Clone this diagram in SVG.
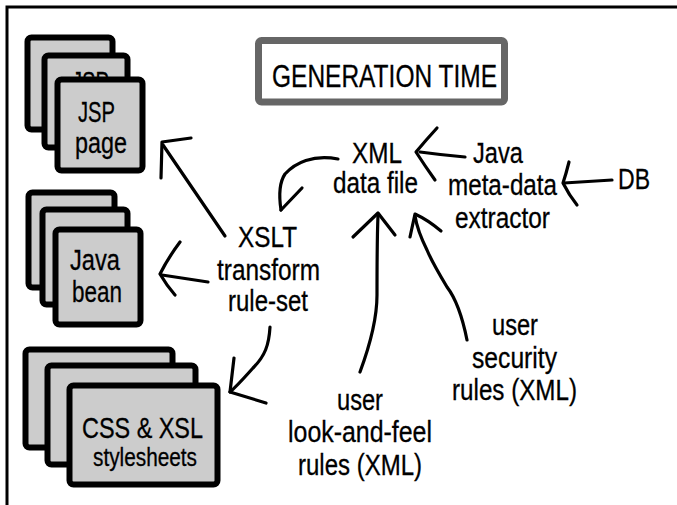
<svg xmlns="http://www.w3.org/2000/svg" width="677" height="505" viewBox="0 0 677 505">
<style>
.frame{stroke:#000;stroke-width:3;fill:none}
.card{fill:#cccccc;stroke:#000;stroke-width:6}
.title{fill:#fff;stroke:#666;stroke-width:7}
.t{font-family:"Liberation Sans",Arial,sans-serif;font-size:29px;fill:#000;stroke:#000;stroke-width:0.3}
.h{font-size:31px}
.s{font-family:"Liberation Sans",Arial,sans-serif;font-size:25px;fill:#000;stroke:#000;stroke-width:0.3}
.c{fill:none;stroke:#000;stroke-width:3.2;stroke-linecap:round;stroke-linejoin:round}
</style>
<rect width="677" height="505" fill="#fff"/>
<path class="frame" d="M7,505 V7 H677"/>

<g id="generation-time">
<rect class="title" x="258.5" y="40.5" width="246" height="61.5" rx="3"/>
<text class="t h" x="272" y="87" textLength="225" lengthAdjust="spacingAndGlyphs">GENERATION TIME</text>
</g>

<g id="jsp-stack">
<rect class="card" x="27.5" y="37.5" width="85" height="92" rx="4"/>
<rect class="card" x="44.5" y="55.5" width="83" height="92" rx="4"/>
<text class="t" x="72" y="92" textLength="37" lengthAdjust="spacingAndGlyphs">JSP</text>
<rect class="card" x="57.5" y="79.5" width="85" height="91" rx="4"/>
<text class="t" x="78" y="122" textLength="37" lengthAdjust="spacingAndGlyphs">JSP</text>
<text class="t" x="75" y="153" textLength="52" lengthAdjust="spacingAndGlyphs">page</text>
</g>

<g id="java-bean-stack">
<rect class="card" x="28.5" y="192.5" width="86" height="95" rx="4"/>
<rect class="card" x="42.5" y="209.5" width="85" height="95" rx="4"/>
<rect class="card" x="55.5" y="229.5" width="85" height="95" rx="4"/>
<text class="t" x="70" y="270" textLength="50" lengthAdjust="spacingAndGlyphs">Java</text>
<text class="t" x="72" y="302" textLength="50" lengthAdjust="spacingAndGlyphs">bean</text>
</g>

<g id="css-xsl-stack">
<rect class="card" x="25.5" y="349.5" width="147" height="98" rx="4"/>
<rect class="card" x="47.5" y="365.5" width="148" height="99" rx="4"/>
<rect class="card" x="69.5" y="385.5" width="148" height="99" rx="4"/>
<text class="t" x="82" y="438" textLength="121" lengthAdjust="spacingAndGlyphs">CSS &amp; XSL</text>
<text class="s" x="93" y="466" textLength="104" lengthAdjust="spacingAndGlyphs">stylesheets</text>
</g>

<g id="xml-data-file">
<text class="t" x="352" y="163" textLength="50" lengthAdjust="spacingAndGlyphs">XML</text>
<text class="t" x="333" y="193" textLength="85" lengthAdjust="spacingAndGlyphs">data file</text>
</g>

<g id="xslt">
<text class="t" x="238" y="247" textLength="59" lengthAdjust="spacingAndGlyphs">XSLT</text>
<text class="t" x="217" y="280" textLength="103" lengthAdjust="spacingAndGlyphs">transform</text>
<text class="t" x="228" y="311" textLength="80" lengthAdjust="spacingAndGlyphs">rule-set</text>
</g>

<g id="extractor">
<text class="t" x="473" y="163" textLength="50" lengthAdjust="spacingAndGlyphs">Java</text>
<text class="t" x="448" y="195" textLength="109" lengthAdjust="spacingAndGlyphs">meta-data</text>
<text class="t" x="455" y="228" textLength="95" lengthAdjust="spacingAndGlyphs">extractor</text>
</g>

<g id="db">
<text class="t" x="618" y="189" textLength="32" lengthAdjust="spacingAndGlyphs">DB</text>
</g>

<g id="security-rules">
<text class="t" x="492" y="335" textLength="46" lengthAdjust="spacingAndGlyphs">user</text>
<text class="t" x="472" y="368" textLength="85" lengthAdjust="spacingAndGlyphs">security</text>
<text class="t" x="452" y="400" textLength="125" lengthAdjust="spacingAndGlyphs">rules (XML)</text>
</g>

<g id="look-and-feel-rules">
<text class="t" x="337" y="410" textLength="46" lengthAdjust="spacingAndGlyphs">user</text>
<text class="t" x="288" y="442" textLength="144" lengthAdjust="spacingAndGlyphs">look-and-feel</text>
<text class="t" x="298" y="475" textLength="124" lengthAdjust="spacingAndGlyphs">rules (XML)</text>
</g>

<g id="connectors">
<path class="c" d="M612,180 L564,183"/>
<path class="c" d="M569,162 Q566,174 563,183 Q569,195 577,205"/>
<path class="c" d="M465,157 Q442,155 420,152"/>
<path class="c" d="M437,128 Q426,140 416,152 Q425,166 435,180"/>
<path class="c" d="M338,159 C313,154 295,163 285,174 C279,183 279,197 281,210"/>
<path class="c" d="M281,210 L302,188"/>
<path class="c" d="M225,236 L163,145"/>
<path class="c" d="M191,138 L162,142 L161,178"/>
<path class="c" d="M208,282 L162,275"/>
<path class="c" d="M180,242 Q168,258 160,274 Q167,286 175,295"/>
<path class="c" d="M270,327 C269,345 265,356 253,368 C244,378 237,386 230,392"/>
<path class="c" d="M234,358 L230,392 L266,403"/>
<path class="c" d="M360,372 C370,345 377,320 377,295 C377,265 377,240 378,215"/>
<path class="c" d="M353,237 L378,213 L395,235"/>
<path class="c" d="M467,340 C463,320 457,300 447,287 C438,272 432,262 427,250 C421,238 417,228 415,216"/>
<path class="c" d="M410,237 L415,214 Q428,220 441,231"/>
</g>
</svg>
